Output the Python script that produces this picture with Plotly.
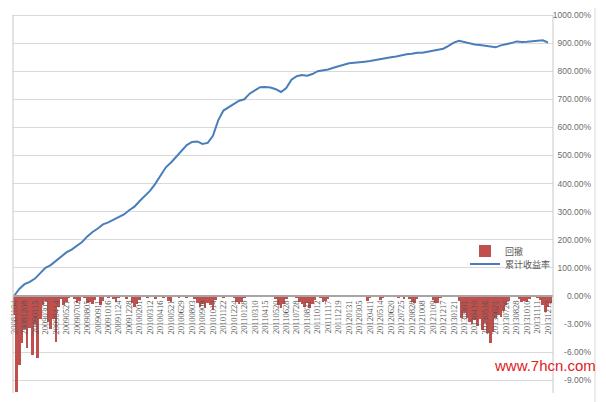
import plotly.graph_objects as go

tick_labels = [
    "20081104", "20081208", "20090115", "20090305", "20090414", "20090521",
    "20090702", "20090805", "20090911", "20091016", "20091124", "20091228",
    "20100201", "20100312", "20100416", "20100521", "20100629", "20100803",
    "20100909", "20101014", "20101122", "20101224", "20110128", "20110310",
    "20110415", "20110520", "20110628", "20110728", "20110831", "20111012",
    "20111117", "20111219", "20120131", "20120305", "20120411", "20120514",
    "20120620", "20120725", "20120828", "20121008", "20121109", "20121217",
    "20130121", "20130301", "20130410", "20130516", "20130621", "20130726",
    "20130828", "20131010", "20131111", "20131212",
]

# cumulative return (%), two samples per label interval
cum_return = [
    0, 25, 42, 50, 62, 80, 100, 110, 125, 140,
    155, 165, 180, 192, 212, 228, 240, 255, 262, 272,
    282, 290, 305, 318, 338, 355, 375, 400, 430, 458,
    475, 495, 518, 537, 548, 550, 541, 545, 570, 625,
    660, 672, 682, 695, 700, 720, 732, 743, 744, 742,
    736, 726, 740, 770, 782, 786, 784, 790, 800, 802,
    806, 812, 818, 824, 828, 830, 833, 834, 836, 840,
    842, 846, 850, 852, 857, 860, 862, 866, 866, 869,
    872, 876, 880, 890, 902, 908, 903, 898, 895, 893,
    890, 887, 885, 892, 895, 900, 906, 904, 905, 906,
    908, 910, 902,
]

# drawdown (%), four samples per label interval
drawdown = [
    -2.0, -10.3, -7.4, -5.0, -3.5, -5.5, -3.4, -6.3, -3.0, -6.6,
    -2.5, -1.0, -0.5, -2.8, -3.5, -2.5, -4.9, -1.2, -0.3, -1.0,
    -0.6, -0.2, 0, -0.3, -0.8, -0.5, 0, -0.2, -0.8, -0.6,
    -0.9, -0.4, 0, -1.0, -0.5, 0, -0.2, 0, -0.3, -0.6,
    -0.2, 0, 0, -0.3, 0, -0.8, -1.2, -0.9, -0.4, 0,
    0, -0.2, 0, 0, -0.3, 0, 0, -0.2, 0, -0.5,
    -0.6, 0, 0, -0.2, 0, 0, -0.2, 0, 0, -0.3,
    -0.8, -1.2, -0.9, -1.3, -0.7, -1.0, -1.5, -0.4, 0, 0,
    -0.2, 0, 0, 0, -0.2, -0.6, -0.9, -0.6, -0.2, 0,
    0, -0.1, 0, 0, 0, 0, 0, 0, 0, 0,
    -0.3, -1.0, -1.3, -0.9, -0.3, 0, 0, 0, -0.2, -0.6,
    -0.9, -1.2, -0.8, -1.3, -0.9, -0.4, 0, -0.2, -0.6, -0.5,
    -0.3, 0, 0, 0, 0, 0, 0, 0, 0, 0,
    0, 0, 0, 0, 0, -0.5, -0.2, 0, 0, 0,
    -0.4, -0.2, 0, 0, 0, 0, 0, -0.2, 0, -0.3,
    0, -0.3, -0.6, -0.7, -0.3, 0, 0, 0, 0, 0,
    -0.4, -0.8, -0.7, -0.2, 0, 0, 0, 0, 0, 0,
    -0.5, -2.3, -1.8, -2.3, -2.8, -3.0, -2.6, -3.2, -2.5, -3.6,
    -2.9, -4.0, -5.0, -3.8, -2.4, -2.0, -2.2, -1.6, -1.0, -0.5,
    0, 0, 0, -0.3, -0.6, -0.5, -0.6, -0.3, 0, 0,
    -0.2, -0.4, -1.0, -1.7, -1.2, -0.8,
]

return_ticks = [100, 200, 300, 400, 500, 600, 700, 800, 900, 1000]
drawdown_ticks = [0, -3, -6, -9]

# the page body adds an 8px offset; lay the figure out in reference pixels
OFF = 8
W, H = 606 - OFF, 402 - OFF
REF_LEFT, REF_RIGHT, REF_TOP, REF_BOTTOM = 13, 596, 8, 393
ML = REF_LEFT - OFF
MT = REF_TOP - OFF
MR = W - (REF_RIGHT - OFF)
MB = H - (REF_BOTTOM - OFF)
PW = W - ML - MR
PH = H - MT - MB


def px_x(px):
    return (px - REF_LEFT) / PW


def px_y(py):
    return (REF_BOTTOM - py) / PH


x_right = px_x(553)
zero_frac = px_y(296)
lab_pos = px_x(594)
ret_per_px = 1000 / (296 - 15)
dd_per_px = 3 / 28.1
ret_range = [-(REF_BOTTOM - 296) * ret_per_px, (296 - REF_TOP) * ret_per_px]
dd_range = [-(REF_BOTTOM - 296) * dd_per_px, (296 - REF_TOP) * dd_per_px]

fig = go.Figure()
fig.add_trace(go.Bar(
    y=drawdown, x0=0, dx=0.25, name="回撤", yaxis="y2",
    marker=dict(color="#c0504d", line=dict(width=0)),
    legend="legend",
))
fig.add_trace(go.Scatter(
    y=cum_return, x0=0, dx=0.5, name="累计收益率", mode="lines",
    line=dict(color="#4a7ebb", width=2),
    legend="legend2",
))

tickfont = dict(family="Liberation Sans", size=8.5, color="#6d6d6d")
legfont = dict(family="Noto Sans CJK SC", size=9, color="#595959")

fig.update_layout(
    width=W, height=H,
    margin=dict(l=ML, r=MR, t=MT, b=MB, pad=0, autoexpand=False),
    paper_bgcolor="white", plot_bgcolor="white",
    bargap=0,
    showlegend=True,
    legend=dict(
        x=px_x(465), y=px_y(251), xanchor="left", yanchor="middle",
        font=legfont, bgcolor="rgba(0,0,0,0)", itemwidth=30,
    ),
    legend2=dict(
        x=px_x(465), y=px_y(264), xanchor="left", yanchor="middle",
        font=legfont, bgcolor="rgba(0,0,0,0)", itemwidth=30,
    ),
    xaxis=dict(
        domain=[0, x_right], range=[-0.1, 51.48],
        anchor="free", position=zero_frac, automargin=False,
        tickmode="array", tickvals=list(range(len(tick_labels))), ticktext=tick_labels,
        tickangle=-90, tickfont=dict(family="Liberation Serif", size=8.5, color="#555555"),
        showgrid=False, zeroline=False,
        showline=True, linecolor="#a6a6a6", linewidth=2,
        ticks="", layer="above traces",
    ),
    yaxis=dict(
        domain=[0, 1], range=ret_range,
        anchor="free", position=lab_pos, side="right", automargin=False,
        ticklabelposition="inside",
        tickmode="array", tickvals=return_ticks,
        ticktext=[f"{v:.2f}%" for v in return_ticks], tickfont=tickfont,
        showgrid=True, gridcolor="#d9d9d9", gridwidth=1,
        zeroline=False, showline=False, ticks="",
    ),
    yaxis2=dict(
        overlaying="y", range=dd_range,
        anchor="free", position=lab_pos, side="right", automargin=False,
        ticklabelposition="inside",
        tickmode="array", tickvals=drawdown_ticks,
        ticktext=[f"{v:.2f}%" for v in drawdown_ticks], tickfont=tickfont,
        showgrid=True, gridcolor="#d9d9d9", gridwidth=1,
        zeroline=False, showline=False, ticks="",
    ),
)

line_c = "#c8c8c8"
for xx in (px_x(13), x_right):
    fig.add_shape(type="line", xref="paper", yref="paper", x0=xx, x1=xx,
                  y0=0, y1=px_y(15), line=dict(color=line_c, width=1))
fig.add_shape(type="line", xref="paper", yref="paper",
              x0=px_x(10), x1=px_x(595), y0=px_y(6), y1=px_y(6),
              line=dict(color="#d9d9d9", width=1))
fig.add_shape(type="line", xref="paper", yref="paper",
              x0=px_x(595), x1=px_x(595), y0=px_y(6), y1=px_y(402),
              line=dict(color="#d9d9d9", width=1))

fig.add_annotation(
    text="www.7hcn.com", xref="paper", yref="paper",
    x=px_x(545), y=px_y(365), xanchor="center", yanchor="middle", showarrow=False,
    font=dict(family="Liberation Sans", size=15, color="#e0201c"),
)

fig.write_html("out.html")
